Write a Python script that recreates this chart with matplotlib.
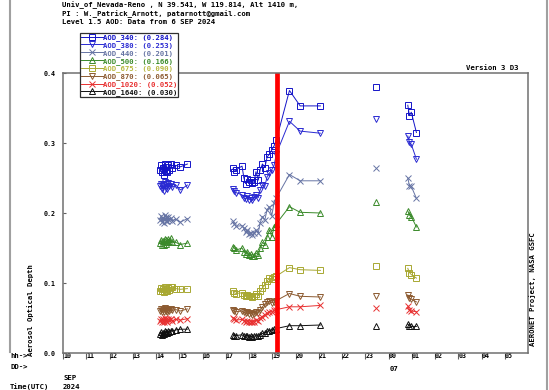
#!/usr/bin/env python3

import numpy as np
import matplotlib
matplotlib.use("Agg")
import matplotlib.pyplot as plt
from matplotlib.lines import Line2D

# Hours (UTC) from 00:00 on 6 SEP 2024; values past 24 are on 7 SEP
hours = [
    14.18, 14.22, 14.26, 14.29, 14.33, 14.37, 14.41, 14.45, 14.49, 14.53, 14.58, 14.63, 14.70, 14.85, 15.05, 15.35,
    17.32, 17.36, 17.45, 17.70, 17.78, 17.85, 17.92, 18.00, 18.08, 18.15, 18.22, 18.30, 18.40, 18.48, 18.58, 18.68,
    18.78, 18.88, 18.98, 19.08, 19.18,
    19.74, 20.20, 21.07,
    23.47,
    24.83, 24.90, 24.98, 25.20,
]

aod_340 = [
    0.262, 0.268, 0.258, 0.265, 0.255, 0.270, 0.260, 0.266, 0.258, 0.268, 0.262, 0.270, 0.264, 0.268, 0.266, 0.270,
    0.264, 0.259, 0.262, 0.267, 0.250, 0.242, 0.248, 0.245, 0.247, 0.243, 0.245, 0.259, 0.247, 0.262, 0.270, 0.265,
    0.280, 0.284, 0.290, 0.296, 0.305,
    0.375, 0.353, 0.353,
    0.380,
    0.354, 0.339, 0.344, 0.315,
]
aod_380 = [
    0.238, 0.242, 0.234, 0.240, 0.232, 0.244, 0.236, 0.241, 0.235, 0.243, 0.238, 0.242, 0.237, 0.240, 0.233, 0.240,
    0.235, 0.231, 0.229, 0.226, 0.222, 0.220, 0.224, 0.219, 0.221, 0.218, 0.223, 0.226, 0.222, 0.233, 0.240, 0.238,
    0.252, 0.257, 0.262, 0.268, 0.285,
    0.331, 0.317, 0.314,
    0.334,
    0.310, 0.301, 0.298, 0.277,
]
aod_440 = [
    0.190, 0.196, 0.187, 0.193, 0.186, 0.197, 0.189, 0.194, 0.188, 0.195, 0.190, 0.193, 0.189, 0.191, 0.187, 0.192,
    0.188, 0.185, 0.181, 0.182, 0.178, 0.173, 0.176, 0.170, 0.172, 0.169, 0.171, 0.176, 0.172, 0.186, 0.195, 0.190,
    0.205, 0.209, 0.196, 0.215, 0.222,
    0.255, 0.246, 0.246,
    0.265,
    0.250, 0.239, 0.238, 0.221,
]
aod_500 = [
    0.157, 0.162, 0.154, 0.160, 0.155, 0.163, 0.156, 0.161, 0.158, 0.163, 0.160, 0.164, 0.158, 0.158, 0.155, 0.157,
    0.152, 0.150, 0.147, 0.150, 0.145, 0.142, 0.145, 0.140, 0.141, 0.138, 0.139, 0.143, 0.140, 0.150, 0.158, 0.155,
    0.166, 0.176, 0.166, 0.180, 0.185,
    0.209, 0.201, 0.200,
    0.216,
    0.203, 0.197, 0.195, 0.180,
]
aod_675 = [
    0.089, 0.093, 0.088, 0.092, 0.087, 0.094, 0.089, 0.092, 0.088, 0.093, 0.090, 0.094, 0.095, 0.092, 0.091, 0.092,
    0.088, 0.086, 0.085, 0.086, 0.083, 0.082, 0.083, 0.081, 0.082, 0.080, 0.081, 0.084, 0.082, 0.088, 0.093, 0.097,
    0.103, 0.107, 0.106, 0.109, 0.110,
    0.122, 0.119, 0.118,
    0.124,
    0.121, 0.115, 0.112, 0.107,
]
aod_870 = [
    0.060, 0.063, 0.058, 0.062, 0.059, 0.064, 0.060, 0.063, 0.059, 0.062, 0.060, 0.063, 0.061, 0.062, 0.060, 0.063,
    0.061, 0.060, 0.059, 0.060, 0.058, 0.057, 0.058, 0.056, 0.057, 0.055, 0.056, 0.058, 0.057, 0.062, 0.066, 0.070,
    0.073, 0.074, 0.072, 0.073, 0.075,
    0.085, 0.081, 0.080,
    0.082,
    0.083, 0.079, 0.077, 0.073,
]
aod_1020 = [
    0.046, 0.049, 0.045, 0.048, 0.044, 0.050, 0.046, 0.049, 0.045, 0.048, 0.047, 0.049, 0.046, 0.048, 0.047, 0.049,
    0.050, 0.048, 0.047, 0.048, 0.046, 0.045, 0.046, 0.044, 0.045, 0.044, 0.045, 0.047, 0.046, 0.050, 0.052, 0.055,
    0.057, 0.058, 0.059, 0.061, 0.062,
    0.066, 0.066, 0.068,
    0.065,
    0.067, 0.062, 0.060, 0.059,
]
aod_1640 = [
    0.027, 0.030, 0.026, 0.029, 0.027, 0.031, 0.028, 0.030, 0.028, 0.031, 0.030, 0.032, 0.031, 0.033, 0.034, 0.034,
    0.026, 0.025, 0.025, 0.026, 0.024, 0.024, 0.025, 0.023, 0.024, 0.023, 0.024, 0.025, 0.024, 0.026, 0.028, 0.029,
    0.031, 0.032, 0.033, 0.034, 0.035,
    0.039, 0.039, 0.040,
    0.038,
    0.041, 0.039, 0.038, 0.038,
]

names = ["AOD_340", "AOD_380", "AOD_440", "AOD_500", "AOD_675", "AOD_870", "AOD_1020", "AOD_1640"]
means = [0.284, 0.253, 0.201, 0.166, 0.090, 0.065, 0.052, 0.030]
series = [aod_340, aod_380, aod_440, aod_500, aod_675, aod_870, aod_1020, aod_1640]
colors = ["#1414c8", "#2a2ad2", "#6674a4", "#3a8a2a", "#a8a832", "#8c5a30", "#e83030", "#101010"]
text_colors = ["#1414c8", "#2a2ad2", "#6674a4", "#3a8a2a", "#b8b840", "#8c5a30", "#e83030", "#101010"]
markers = ["s", "v", "x", "^", "s", "v", "x", "^"]

hour_ticks = list(range(10, 30))
event_hour = 19.22

W, H = 549, 390
FONT = "DejaVu Sans Mono"


def fx(x):
    return x / W


def fy(y):
    return 1 - y / H


fig = plt.figure(figsize=(W / 100, H / 100), dpi=100)
ax = fig.add_axes([fx(63), fy(353), fx(528) - fx(63), fy(73) - fy(353)])

# split into separately connected runs where the time gap is large
t = np.array(hours)
breaks = np.where(np.diff(t) > 1.0)[0] + 1
for vals, c, m in zip(series, colors, markers):
    v = np.array(vals)
    for tt, vv in zip(np.split(t, breaks), np.split(v, breaks)):
        ax.plot(tt, vv, color=c, marker=m, markersize=4.8, markerfacecolor="none",
                markeredgewidth=0.7, linewidth=0.7)

ax.axvline(event_hour, color="red", linewidth=3.4)

ax.set_xlim(10, 30)
ax.set_ylim(0, 0.4)
ax.set_xticks(hour_ticks)
ax.set_xticklabels(["%02d" % (h % 24) for h in hour_ticks], ha="left",
                   fontfamily=FONT, fontweight="bold", fontsize=4.8)
ax.set_yticks([0.0, 0.1, 0.2, 0.3, 0.4])
ax.set_yticklabels(["0.0", "0.1", "0.2", "0.3", "0.4"],
                   fontfamily=FONT, fontweight="bold", fontsize=4.8)
ax.tick_params(axis="x", direction="out", length=4.5, width=0.8, pad=-4.2, colors="#606060")
ax.tick_params(axis="y", direction="in", length=2.5, width=0.8, pad=5, colors="#606060")
for lab in ax.get_xticklabels() + ax.get_yticklabels():
    lab.set_color("black")
for s in ax.spines.values():
    s.set_color("#707070")
    s.set_linewidth(1.1)

# legend
handles = [Line2D([0], [0], color=c, marker=m, markersize=4.8, markerfacecolor="none",
                  markeredgewidth=0.7, linewidth=0.7) for c, m in zip(colors, markers)]
labels = ["%s: (%.3f)" % (n, v) for n, v in zip(names, means)]
leg = ax.legend(handles, labels, loc="upper left", bbox_to_anchor=(fx(80), fy(33)),
                bbox_transform=fig.transFigure, prop={"family": FONT, "weight": "bold", "size": 5.2},
                handlelength=3.0, handletextpad=0.0, labelspacing=0.12, borderpad=0.15,
                borderaxespad=0, fancybox=False, framealpha=1)
leg.get_frame().set_edgecolor("#303030")
leg.get_frame().set_linewidth(0.9)
for txt, c in zip(leg.get_texts(), text_colors):
    txt.set_color(c)

# header and side text
kw = dict(fontfamily=FONT, fontweight="bold", fontsize=5.2, color="black")
fig.text(fx(62), fy(1), "Univ_of_Nevada-Reno , N 39.541, W 119.814, Alt 1410 m,", va="top", **kw)
fig.text(fx(62), fy(10), "PI : W._Patrick_Arnott, patarnott@gmail.com", va="top", **kw)
fig.text(fx(62), fy(19), "Level 1.5 AOD: Data from 6 SEP 2024", va="top", **kw)
fig.text(fx(518), fy(71.5), "Version 3 D3", ha="right", va="bottom", **kw)
fig.text(fx(533), fy(346), "AERONET Project, NASA GSFC", rotation=90, ha="center", va="bottom", **kw)
fig.text(fx(31), fy(356), "Aerosol Optical Depth", rotation=90, ha="center", va="bottom", **kw)

fig.text(fx(10), fy(356), "hh->", va="center", **kw)
fig.text(fx(10), fy(367), "DD->", va="center", **kw)
fig.text(fx(390), fy(369), "07", va="center", **kw)
fig.text(fx(63), fy(378), "SEP", va="center", **kw)
fig.text(fx(10), fy(387), "Time(UTC)", va="center", **kw)
fig.text(fx(63), fy(387), "2024", va="center", **kw)

# outer gray frame
fig.add_artist(Line2D([fx(10), fx(10)], [fy(0), fy(352)], color="#a0a0a0", linewidth=1.5))
fig.add_artist(Line2D([fx(547), fx(547)], [fy(0), fy(390)], color="#a0a0a0", linewidth=1.5))

fig.savefig("out.png", dpi=100)
